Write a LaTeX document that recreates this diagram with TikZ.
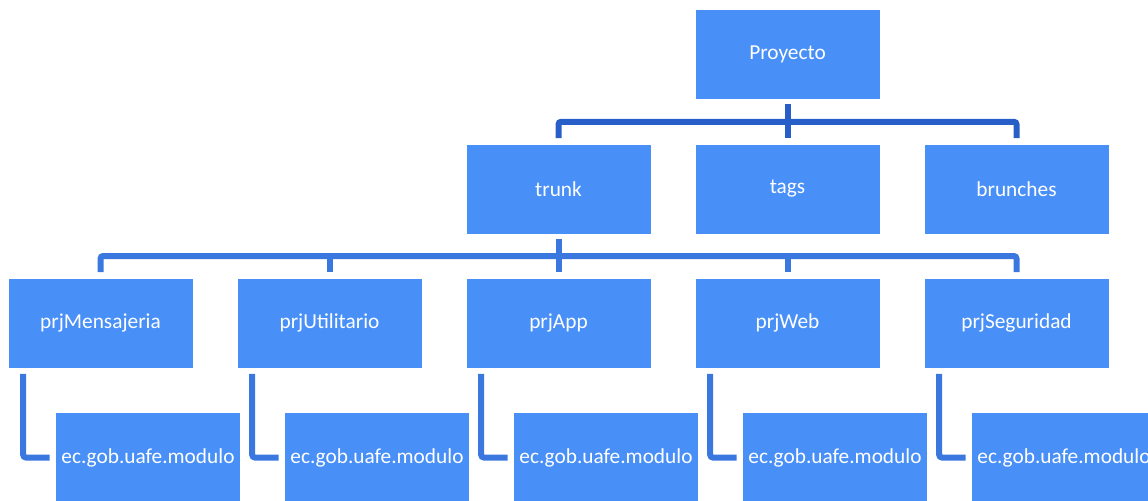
\documentclass[tikz,border=0pt]{standalone}
\usepackage{fontspec}
\setmainfont{Carlito}
\usetikzlibrary{calc}
\definecolor{boxblue}{RGB}{72,143,248}
\definecolor{lineone}{RGB}{40,94,200}
\definecolor{linetwo}{RGB}{58,120,224}
\tikzset{
  folder/.style={fill=boxblue, text=white, minimum width=138pt, minimum height=66.75pt, inner sep=0pt, font=\fontsize{16}{19}\selectfont},
  linkone/.style={draw=lineone, line width=4.5pt, rounded corners=2pt},
  linktwo/.style={draw=linetwo, line width=4.5pt, rounded corners=2pt}
}
\begin{document}
\begin{tikzpicture}[x=0.75pt, y=-0.75pt]
\useasboundingbox (0,0) rectangle (1148,500);
\clip (0,0) rectangle (1148,500);
% Draw the root and the first level
\draw (787.5,54.5) node[folder] (proyecto) {Proyecto};
\foreach \i/\name in {1/trunk,2/tags,3/brunches}
{
\draw ({558.5+229*(\i-1)},189) node[folder] (\name) {\name};
}
% Draw the projects under trunk, each with its module box
\foreach \i/\name in {1/prjMensajeria,2/prjUtilitario,3/prjApp,4/prjWeb,5/prjSeguridad}
{
  \draw ({100.5+229*(\i-1)},323) node[folder] (prj\i) {\name};
  \draw ({148+229*(\i-1)},457.5) node[folder] (mod\i) {ec.gob.uafe.modulo};
  % elbow from the project down to its module
  \draw[linktwo] ($(prj\i.south west)+(15,6)$) |- ($(mod\i.west)+(-6,0)$);
}
% Connect Proyecto to trunk, tags and brunches
\coordinate (j1) at ($(proyecto.south)!0.5!(tags.north)$);
\draw[linkone] ($(proyecto.south)+(0,5)$) -- ($(tags.north)+(0,-6)$);
\draw[linkone] ($(trunk.north)+(0,-6)$) |- (j1) -| ($(brunches.north)+(0,-6)$);
% Connect trunk to the projects
\coordinate (j2) at ($(trunk.south)!0.5!(prj3.north)$);
\draw[linktwo] ($(trunk.south)+(0,5)$) -- ($(prj3.north)+(0,-6)$);
\draw[linktwo] ($(prj1.north)+(0,-6)$) |- (j2) -| ($(prj5.north)+(0,-6)$);
\draw[linktwo] ($(prj2.north)+(0,-6)$) -- (prj2.north |- j2);
\draw[linktwo] ($(prj4.north)+(0,-6)$) -- (prj4.north |- j2);
\end{tikzpicture}
\end{document}
